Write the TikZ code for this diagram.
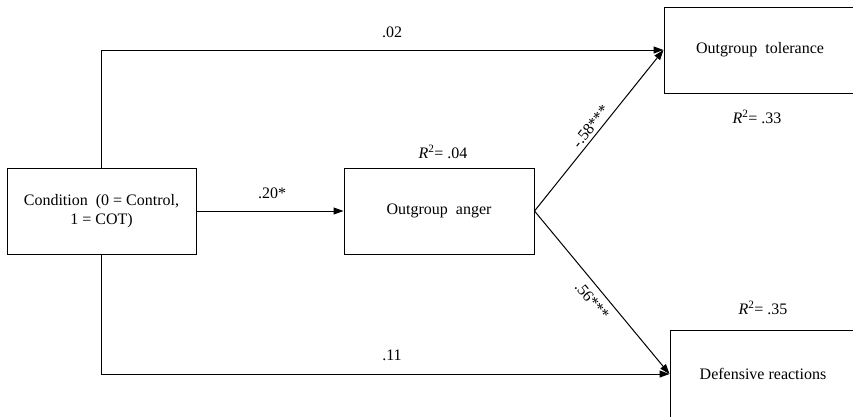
\documentclass[tikz,border=0pt]{standalone}
\usepackage{fontspec}
\setmainfont{Liberation Serif}
\newfontfamily\figfont{Liberation Serif}
\usepackage{tikz}
\usetikzlibrary{arrows.meta, positioning, calc}

\newcommand{\rsq}[1]{\textit{R}\textsuperscript{2}= #1}

\begin{document}
\begin{tikzpicture}[
  x=1pt, y=-1pt,
  font=\figfont\fontsize{16}{19}\selectfont,
  line width=1pt,
  box/.style={
    draw, align=center, inner sep=0pt
  },
  path/.style={
    -{Triangle[length=10pt, width=7pt]}
  },
  coef/.style={inner sep=3pt}
]
  \useasboundingbox (0,0) rectangle (853,416);
  \clip (0,7.5) rectangle (853,416);

  \node[box, minimum width=189pt, minimum height=86pt] (cond) at (101.5,211)
    {Condition\ \ (0 = Control,\\1 = COT)};
  \node[box, minimum width=190pt, minimum height=86pt] (anger) at (439,211)
    {Outgroup\ \ anger};
  \node[box, minimum width=192pt, minimum height=86pt] (toler) at (760,50)
    {Outgroup\ \ tolerance};
  \node[box, minimum width=186pt, minimum height=88pt] (defens) at (763,374)
    {Defensive reactions};

  % R^2 values
  \node (r-anger) at (443,152) {\rsq{.04}};
  \node (r-toler) at (757,117) {\rsq{.33}};
  \node (r-defens) at (763,308) {\rsq{.35}};

  % paths
  \coordinate (top) at (cond.center |- toler.west);
  \coordinate (bot) at (cond.center |- defens.west);
  \draw[path] (cond.north) -- (top) -- (toler.west);
  \draw[path] (cond.south) -- (bot) -- (defens.west);
  \draw[path] (cond) -- (anger);
  \draw[path] (anger.east) -- node[coef, above, sloped, pos=0.49] {-.58***} (toler.west);
  \draw[path] (anger.east) -- node[coef, below, sloped, pos=0.5, inner sep=7pt] {.56***} (defens.west);

  \node (c-direct1) at (392,32) {.02};
  \node (c-direct2) at (392,355) {.11};
  \node (c-a) at (272,193) {.20*};
\end{tikzpicture}
\end{document}
